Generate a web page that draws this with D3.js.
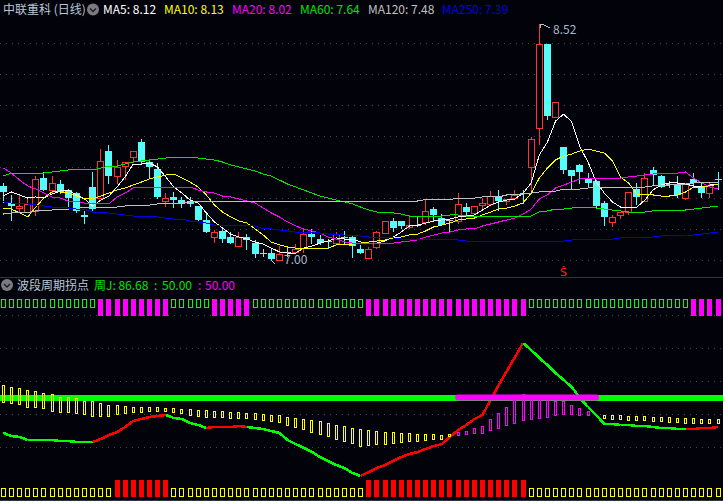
<!DOCTYPE html>
<html>
<head>
<meta charset="utf-8">
<script src="https://cdn.jsdelivr.net/npm/d3@7"></script>
<style>
html, body { margin: 0; padding: 0; background: #02020b; overflow: hidden; }
svg { display: block; }
text { font-family: "Noto Sans CJK SC", "Noto Sans", sans-serif; font-size: 12px; }
</style>
</head>
<body>
<div id="chart"></div>
<script>
// daily candles
const open = [
  7.477,7.367,7.335,7.309,7.316,7.528,7.451,7.489,7.451,7.431,
  7.290,7.470,7.399,7.702,7.541,7.605,7.663,7.760,7.631,7.586,
  7.380,7.406,7.386,7.380,7.348,7.258,7.148,7.187,7.148,7.090,
  7.148,7.109,7.045,7.045,7.000,7.052,7.052,7.077,7.167,7.135,
  7.122,7.109,7.148,7.148,7.071,7.013,7.084,7.174,7.251,7.251,
  7.213,7.225,7.245,7.328,7.270,7.258,7.251,7.341,7.303,7.354,
  7.361,7.406,7.380,7.399,7.431,7.599,7.850,8.391,7.921,7.728,
  7.580,7.612,7.528,7.509,7.367,7.245,7.290,7.309,7.457,7.380,
  7.580,7.541,7.489,7.489,7.399,7.522,7.477,7.431,7.522];
const close = [
  7.438,7.348,7.348,7.361,7.522,7.451,7.496,7.438,7.399,7.316,
  7.277,7.328,7.638,7.541,7.599,7.631,7.702,7.631,7.599,7.406,
  7.399,7.386,7.361,7.361,7.258,7.180,7.180,7.135,7.109,7.148,
  7.129,7.039,7.045,7.006,7.039,7.052,7.071,7.167,7.148,7.109,
  7.116,7.167,7.142,7.090,7.045,7.071,7.180,7.251,7.206,7.219,
  7.225,7.225,7.316,7.290,7.225,7.258,7.361,7.309,7.348,7.367,
  7.412,7.380,7.393,7.419,7.425,7.779,8.391,7.927,8.018,7.580,
  7.541,7.567,7.496,7.348,7.277,7.277,7.309,7.438,7.406,7.528,
  7.547,7.470,7.489,7.419,7.496,7.496,7.431,7.483,7.515];
const high = [
  7.496,7.419,7.419,7.393,7.541,7.567,7.541,7.515,7.457,7.438,
  7.316,7.567,7.715,7.741,7.644,7.631,7.702,7.779,7.650,7.625,
  7.431,7.438,7.406,7.406,7.348,7.303,7.193,7.206,7.180,7.180,
  7.167,7.129,7.071,7.071,7.090,7.084,7.103,7.206,7.200,7.161,
  7.135,7.180,7.187,7.161,7.097,7.084,7.187,7.251,7.270,7.251,
  7.290,7.277,7.393,7.341,7.296,7.258,7.431,7.367,7.348,7.399,
  7.444,7.451,7.393,7.451,7.451,7.792,8.520,8.391,8.018,7.728,
  7.580,7.618,7.560,7.515,7.380,7.290,7.309,7.438,7.496,7.560,
  7.599,7.547,7.509,7.541,7.496,7.560,7.502,7.496,7.567];
const low = [
  7.374,7.258,7.309,7.309,7.290,7.451,7.431,7.431,7.348,7.309,
  7.238,7.309,7.399,7.496,7.496,7.522,7.631,7.625,7.528,7.399,
  7.348,7.341,7.341,7.348,7.251,7.180,7.116,7.116,7.109,7.090,
  7.071,7.019,7.026,7.000,7.000,7.026,7.052,7.052,7.109,7.103,
  7.077,7.109,7.109,7.019,7.045,7.013,7.077,7.174,7.187,7.206,
  7.206,7.219,7.232,7.258,7.225,7.180,7.238,7.283,7.296,7.328,
  7.361,7.322,7.361,7.393,7.367,7.451,7.747,7.908,7.921,7.560,
  7.457,7.496,7.470,7.335,7.225,7.219,7.270,7.296,7.361,7.380,
  7.489,7.470,7.470,7.406,7.393,7.470,7.406,7.406,7.457];

// moving averages
const ma5 = [
  7.412,7.438,7.419,7.399,7.406,7.399,7.425,7.444,7.451,7.419,
  7.393,7.348,7.386,7.412,7.470,7.535,7.618,7.618,7.625,7.599,
  7.535,7.470,7.431,7.386,7.367,7.303,7.245,7.206,7.167,7.148,
  7.135,7.116,7.103,7.077,7.052,7.045,7.045,7.077,7.090,7.109,
  7.122,7.142,7.135,7.135,7.116,7.109,7.109,7.122,7.148,7.180,
  7.219,7.225,7.238,7.251,7.258,7.264,7.277,7.283,7.290,7.322,
  7.354,7.374,7.386,7.393,7.431,7.496,7.676,7.760,7.895,7.940,
  7.889,7.728,7.631,7.502,7.431,7.374,7.341,7.335,7.341,7.386,
  7.451,7.483,7.496,7.496,7.489,7.477,7.470,7.483,7.489];
const ma10 = [
  7.335,7.328,7.303,7.277,7.341,7.399,7.438,7.438,7.431,7.412,
  7.393,7.393,7.412,7.431,7.451,7.464,7.483,7.502,7.522,7.535,
  7.547,7.554,7.528,7.502,7.470,7.419,7.354,7.309,7.277,7.251,
  7.238,7.200,7.161,7.116,7.097,7.084,7.077,7.077,7.077,7.077,
  7.077,7.097,7.103,7.103,7.109,7.116,7.122,7.129,7.142,7.148,
  7.161,7.167,7.187,7.213,7.225,7.238,7.258,7.264,7.270,7.290,
  7.309,7.328,7.335,7.348,7.367,7.431,7.528,7.592,7.644,7.670,
  7.683,7.702,7.715,7.702,7.689,7.638,7.535,7.496,7.425,7.419,
  7.419,7.412,7.412,7.419,7.438,7.470,7.470,7.477,7.489];
const ma20 = [
  7.592,7.560,7.515,7.477,7.457,7.431,7.406,7.399,7.380,7.380,
  7.367,7.361,7.361,7.361,7.406,7.431,7.464,7.470,7.470,7.470,
  7.470,7.470,7.464,7.470,7.451,7.438,7.431,7.412,7.406,7.393,
  7.380,7.367,7.335,7.303,7.277,7.245,7.219,7.200,7.187,7.174,
  7.148,7.135,7.116,7.109,7.109,7.109,7.109,7.109,7.109,7.116,
  7.122,7.129,7.148,7.161,7.174,7.180,7.193,7.200,7.200,7.219,
  7.232,7.245,7.258,7.270,7.296,7.328,7.393,7.419,7.464,7.483,
  7.502,7.522,7.528,7.528,7.528,7.528,7.528,7.535,7.541,7.547,
  7.554,7.554,7.560,7.560,7.567,7.528,7.496,7.470,7.457];
const ma60 = [
  7.541,7.560,7.560,7.560,7.560,7.560,7.567,7.573,7.580,7.580,
  7.580,7.580,7.592,7.605,7.605,7.618,7.631,7.638,7.644,7.650,
  7.657,7.663,7.663,7.657,7.657,7.650,7.644,7.631,7.612,7.599,
  7.586,7.573,7.554,7.541,7.515,7.489,7.470,7.451,7.431,7.412,
  7.399,7.386,7.374,7.361,7.341,7.322,7.309,7.309,7.303,7.296,
  7.283,7.283,7.283,7.283,7.283,7.290,7.290,7.283,7.283,7.283,
  7.283,7.283,7.283,7.283,7.283,7.283,7.309,7.316,7.328,7.328,
  7.335,7.335,7.335,7.335,7.328,7.322,7.316,7.309,7.309,7.309,
  7.316,7.316,7.316,7.316,7.322,7.328,7.335,7.341,7.348];
const ma120 = [
  7.296,7.303,7.303,7.303,7.316,7.322,7.322,7.328,7.328,7.335,
  7.335,7.341,7.341,7.341,7.341,7.348,7.354,7.354,7.354,7.361,
  7.361,7.361,7.367,7.374,7.374,7.374,7.374,7.374,7.374,7.380,
  7.380,7.380,7.380,7.380,7.380,7.380,7.380,7.380,7.380,7.380,
  7.380,7.380,7.380,7.380,7.380,7.380,7.380,7.380,7.380,7.380,
  7.380,7.380,7.390,7.390,7.390,7.390,7.399,7.399,7.399,7.406,
  7.406,7.406,7.419,7.425,7.425,7.431,7.438,7.438,7.444,7.457,
  7.457,7.457,7.464,7.464,7.464,7.464,7.470,7.470,7.470,7.470,
  7.477,7.483,7.483,7.489,7.489,7.496,7.496,7.496,7.496];
const ma250 = [
  7.374,7.367,7.361,7.361,7.354,7.348,7.341,7.341,7.335,7.328,
  7.328,7.309,7.309,7.303,7.296,7.290,7.283,7.283,7.277,7.277,
  7.270,7.264,7.264,7.251,7.245,7.238,7.225,7.225,7.225,7.219,
  7.219,7.219,7.200,7.200,7.193,7.187,7.180,7.180,7.174,7.174,
  7.167,7.167,7.161,7.161,7.155,7.148,7.142,7.142,7.142,7.135,
  7.135,7.135,7.129,7.129,7.129,7.129,7.129,7.122,7.122,7.122,
  7.122,7.116,7.116,7.116,7.116,7.116,7.122,7.122,7.122,7.122,
  7.129,7.129,7.135,7.135,7.135,7.135,7.142,7.142,7.142,7.148,
  7.148,7.155,7.155,7.155,7.161,7.161,7.167,7.174,7.180];

const maNames = ['MA5', 'MA10', 'MA20', 'MA60', 'MA120', 'MA250'];
const maLast = ['8.12', '8.13', '8.02', '7.64', '7.48', '7.39'];
const maSeries = [ma5, ma10, ma20, ma60, ma120, ma250];
const maColors = ['#ffffff', '#ffff00', '#ff00ff', '#00e600', '#c0c0c0', '#0000e6'];
const maLabelX = [103, 164, 232, 300, 368, 442];

// lower panel: J line, histogram and state rows
const lineJ = [
  14.5,11.5,10.5,7.5,7.5,7.5,7.5,6.5,6.5,5.5,
  5.5,5.5,8.5,12.5,15.5,20.5,26.5,28.5,30.5,31.5,
  32.5,29.5,28.5,24.5,22.5,19.5,20.5,20.5,20.5,21.5,
  20.5,19.5,18.5,16.5,14.5,7.5,3.5,-0.5,-4.5,-9.5,
  -13.5,-17.5,-20.5,-25.5,-28.5,-24.5,-20.5,-17.5,-13.5,-9.5,
  -6.5,-4.5,-1.5,1.5,3.5,10.5,17.5,22.5,28.5,32.5,
  47.5,62.5,76.5,90.5,104.5,97.5,89.5,82.5,74.5,67.5,
  60.5,49.5,40.5,32.5,23.5,23.5,22.5,22.5,21.5,21.5,
  20.5,19.5,19.5,18.5,18.5,18.5,19.5,19.5,20.5];
const histHigh = [
  62.5,60.5,59.5,57.5,56.5,54.5,53.5,50.5,50.5,49.5,
  46.5,46.5,44.5,42.5,42.5,41.5,40.5,40.5,40.5,40.5,
  39.5,39.5,38.5,38.5,37.5,37.5,36.5,36.5,35.5,35.5,
  34.5,34.5,33.5,32.5,32.5,30.5,29.5,28.5,27.5,26.5,
  24.5,22.5,21.5,19.5,18.5,17.5,16.5,15.5,15.5,14.5,
  14.5,13.5,13.5,13.5,12.5,13.5,15.5,16.5,19.5,21.5,
  28.5,34.5,40.5,47.5,53.5,51.5,49.5,48.5,46.5,46.5,
  42.5,39.5,36.5,null,32.5,32.5,32.5,31.5,31.5,31.5,
  30.5,30.5,30.5,29.5,29.5,29.5,28.5,28.5,28.5];
const histLow = [
  45.5,44.5,43.5,40.5,40.5,39.5,36.5,35.5,35.5,34.5,
  33.5,31.5,31.5,31.5,33.5,34.5,35.5,35.5,36.5,36.5,
  36.5,35.5,34.5,32.5,31.5,30.5,30.5,30.5,29.5,29.5,
  29.5,28.5,27.5,26.5,25.5,22.5,20.5,18.5,15.5,13.5,
  11.5,8.5,6.5,4.5,1.5,2.5,3.5,3.5,4.5,5.5,
  6.5,6.5,7.5,8.5,8.5,11.5,12.5,13.5,14.5,14.5,
  17.5,19.5,22.5,24.5,27.5,28.5,29.5,30.5,32.5,33.5,
  33.5,32.5,32.5,null,29.5,28.5,28.5,27.5,27.5,27.5,
  26.5,26.5,25.5,25.5,24.5,24.5,24.5,24.5,24.5];

// index ranges where each state is switched on
const weekRuns = [[12, 20], [26, 30], [45, 64], [85, 88]];
const bottomRuns = [[14, 20], [45, 64]];
const histMagentaRun = [56, 72];
const bandMagentaRun = [56, 73];
const bandLevel = 50;

const inRuns = (i, runs) => runs.some(r => i >= r[0] && i <= r[1]);

const width = 723, height = 501;
const svg = d3.select('#chart').append('svg').attr('width', width).attr('height', height);
svg.append('rect').attr('width', width).attr('height', height).attr('fill', '#02020b');

const x = d3.scaleLinear().domain([0, 88]).range([3.3, 718]);
const y = d3.scaleLinear().domain([7.00, 8.52]).range([260, 24]);
const yJ = d3.scaleLinear().domain([0, 100]).range([447.5, 347.5]);
const px = i => Math.floor(x(i));
const py = v => Math.round(y(v));
const pj = v => Math.round(yJ(v));
const bars = d3.range(open.length);

// dotted grid and dividers
const grid = svg.append('g').attr('stroke', '#45454d').attr('stroke-dasharray', '1 5').attr('shape-rendering', 'crispEdges');
d3.range(0, 8).map(k => 43.5 + 31 * k).concat(d3.range(0, 5).map(k => 315.5 + 33 * k)).forEach(g => {
  grid.append('line').attr('x1', 0).attr('x2', width).attr('y1', g).attr('y2', g);
});
svg.append('line').attr('x1', 0).attr('x2', width).attr('y1', 277.5).attr('y2', 277.5).attr('stroke', '#33333a');
svg.append('line').attr('x1', 0).attr('x2', width).attr('y1', 500.5).attr('y2', 500.5).attr('stroke', '#33333a');

// candles
const candleUp = '#ff3232', candleDown = '#54fcfc', candleFlat = '#c8c8c8';
const candles = svg.append('g').attr('shape-rendering', 'crispEdges');
bars.forEach(i => {
  const c = px(i);
  const top = py(Math.max(open[i], close[i]));
  const bot = py(Math.min(open[i], close[i]));
  const up = close[i] > open[i];
  const col = up ? candleUp : close[i] < open[i] ? candleDown : candleFlat;
  const g = candles.append('g').attr('stroke', col);
  if (up) {
    // hollow red body, wick stops at the body
    g.append('line').attr('x1', c + .5).attr('x2', c + .5).attr('y1', py(high[i])).attr('y2', top);
    g.append('line').attr('x1', c + .5).attr('x2', c + .5).attr('y1', bot).attr('y2', py(low[i]) + 1);
    g.append('rect').attr('x', c - 2.5).attr('y', top + .5).attr('width', 6).attr('height', Math.max(bot - top, 1)).attr('fill', '#02020b');
  } else {
    g.append('line').attr('x1', c + .5).attr('x2', c + .5).attr('y1', py(high[i])).attr('y2', py(low[i]) + 1);
    g.append('rect').attr('x', c - 3).attr('y', top).attr('width', 7).attr('height', Math.max(bot - top, 1)).attr('fill', col).attr('stroke', 'none');
  }
});

// moving average lines
const maLine = d3.line().x((d, i) => x(i)).y(d => y(d));
maSeries.forEach((s, k) => {
  svg.append('path').attr('d', maLine(s)).attr('fill', 'none')
    .attr('stroke', maColors[k]).attr('shape-rendering', 'crispEdges');
});

// high / low flags, hook is a small polyline off the extreme
const priceText = '#a9b9c9';
function flag(i, v, tx, ty, hook) {
  const c = px(i), h = y(v);
  svg.append('path')
    .attr('d', d3.line()(hook.map(p => [c + p[0], h + p[1]])))
    .attr('fill', 'none').attr('stroke', '#c0c0c0').attr('shape-rendering', 'crispEdges');
  svg.append('text').attr('x', tx).attr('y', ty).attr('fill', priceText).text(v.toFixed(2));
}
flag(66, 8.52, 553, 34, [[1, 4], [1, 0], [3, 0], [11, 4]]);
flag(33, 7.00, 284, 264, [[0, 0], [4, 4]]);

// sell marker
svg.append('text').attr('x', px(69) + .5).attr('y', 276).attr('text-anchor', 'middle')
  .attr('fill', '#ff2020').style('font-family', '"DejaVu Sans"').style('font-size', '11px').text('Ŝ');

// top-left title
function collapseIcon(cx, cy) {
  svg.append('circle').attr('cx', cx).attr('cy', cy).attr('r', 6).attr('fill', '#7c7c80');
  svg.append('path').attr('d', `M${cx - 3},${cy - 1}L${cx},${cy + 2}L${cx + 3},${cy - 1}`)
    .attr('fill', 'none').attr('stroke', '#1c1c20').attr('stroke-width', 1.4);
}
svg.append('text').attr('x', 3).attr('y', 14).attr('fill', '#b8c8d8').text('中联重科 (日线)');
collapseIcon(93, 9.5);
maNames.forEach((n, k) => {
  svg.append('text').attr('x', maLabelX[k]).attr('y', 14).attr('fill', maColors[k]).text(`${n}: ${maLast[k]}`);
});

// lower panel header
collapseIcon(7, 285);
svg.append('text').attr('x', 17).attr('y', 290).attr('fill', '#b8c8d8').text('波段周期拐点');
[['周J: 86.68', 94, '#00e600'], [':', 154, '#00e600'], ['50.00', 162, '#00e600'],
 [':', 198, '#ff00ff'], ['50.00', 205, '#ff00ff']].forEach(t => {
  svg.append('text').attr('x', t[1]).attr('y', 290).attr('fill', t[2]).text(t[0]);
});

// state row under the header
const rows = svg.append('g').attr('shape-rendering', 'crispEdges');
bars.forEach(i => {
  const c = px(i);
  if (inRuns(i, weekRuns)) {
    rows.append('rect').attr('x', c - 2).attr('y', 299).attr('width', 5).attr('height', 17).attr('fill', '#ff00ff');
  } else {
    rows.append('rect').attr('x', c - 1.5).attr('y', 299.5).attr('width', 4).attr('height', 8).attr('fill', 'none').attr('stroke', '#00ff00');
  }
  if (inRuns(i, bottomRuns)) {
    rows.append('rect').attr('x', c - 2).attr('y', 480).attr('width', 5).attr('height', 17).attr('fill', '#ff0000');
  } else {
    rows.append('rect').attr('x', c - 1.5).attr('y', 488.5).attr('width', 4).attr('height', 8).attr('fill', 'none').attr('stroke', '#ffff00');
  }
});

// J line, red on the rising runs and green otherwise
const jSeg = d3.line().x(d => x(d)).y(d => yJ(lineJ[d]));
bars.slice(1).forEach(i => {
  svg.append('path').attr('d', jSeg([i - 1, i])).attr('fill', 'none')
    .attr('stroke', inRuns(i, weekRuns) ? '#ff0000' : '#00ff00')
    .attr('stroke-width', 2.5).attr('shape-rendering', 'crispEdges');
});

// 50 level band
svg.append('line').attr('x1', 0).attr('x2', width).attr('y1', yJ(bandLevel)).attr('y2', yJ(bandLevel))
  .attr('stroke', '#00ff00').attr('stroke-width', 6).attr('shape-rendering', 'crispEdges');
svg.append('line').attr('x1', x(bandMagentaRun[0])).attr('x2', x(bandMagentaRun[1]))
  .attr('y1', yJ(bandLevel)).attr('y2', yJ(bandLevel))
  .attr('stroke', '#ff00ff').attr('stroke-width', 6).attr('stroke-linecap', 'round');

// histogram
const hist = svg.append('g').attr('shape-rendering', 'crispEdges');
bars.forEach(i => {
  if (histHigh[i] === null) return;
  const col = inRuns(i, [histMagentaRun]) ? '#ff00ff' : '#ffff00';
  const c = px(i);
  hist.append('rect').attr('x', c - .5).attr('y', pj(histHigh[i]) + .5)
    .attr('width', 2).attr('height', Math.max(pj(histLow[i]) - pj(histHigh[i]), 1))
    .attr('fill', 'none').attr('stroke', col);
});
</script>
</body>
</html>
